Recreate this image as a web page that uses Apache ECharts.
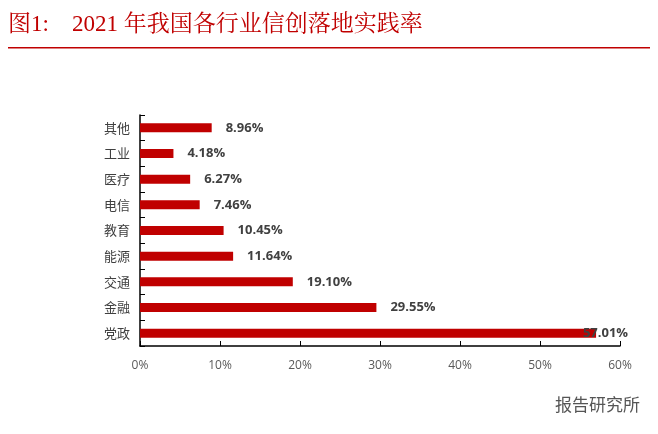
<!DOCTYPE html>
<html><head><meta charset="utf-8">
<script src="https://cdn.jsdelivr.net/npm/echarts@6/dist/echarts.min.js"></script>
<style>html,body{margin:0;padding:0;background:#fff}#c{width:658px;height:434px}</style>
</head><body><div id="c"></div>
<script>
const categories = ['党政','金融','交通','能源','教育','电信','医疗','工业','其他'];
const values = [57.01,29.55,19.10,11.64,10.45,7.46,6.27,4.18,8.96];
const xTicks = [0,10,20,30,40,50,60];
const chart = echarts.init(document.getElementById('c'));
chart.setOption({
  animation:false,
  graphic:[
    {type:'text',left:8,top:13,style:{text:'图1:    2021 年我国各行业信创落地实践率',fill:'#c00000',font:'23px "Liberation Serif","Noto Serif CJK SC","Noto Sans CJK SC",serif'}},
    {type:'rect',shape:{x:8,y:47,width:642,height:1.5},style:{fill:'#c00000'}},
    {type:'text',right:18,top:396,style:{text:'报告研究所',fill:'#555',font:'17px "Noto Sans CJK SC",sans-serif'}}
  ],
  grid:{left:140,right:38,top:115,bottom:88},
  xAxis:{type:'value',min:xTicks[0],max:xTicks[xTicks.length-1],interval:10,
    axisLine:{show:true,lineStyle:{color:'#000',width:1.5}},
    axisTick:{show:true,inside:true,length:5,lineStyle:{color:'#000'}},
    splitLine:{show:false},
    axisLabel:{formatter:v=>v+'%',color:'#595959',fontSize:12,margin:14,fontFamily:'"Open Sans",sans-serif'}},
  yAxis:{type:'category',data:categories,
    axisLine:{lineStyle:{color:'#000',width:1.5}},
    axisTick:{show:true,inside:true,length:5,lineStyle:{color:'#000'}},
    axisLabel:{color:'#404040',fontSize:13,margin:10,fontFamily:'"Noto Sans CJK SC",sans-serif'}},
  series:[{type:'bar',data:values.map((v,i)=>i===0?{value:v,label:{position:'insideRight',offset:[32,0],distance:0}}:v),barWidth:9,itemStyle:{color:'#c00000'},
    label:{show:true,position:'right',distance:14,formatter:p=>p.value.toFixed(2)+'%',
      color:'#404040',fontWeight:'bold',fontSize:13,fontFamily:'"Open Sans",sans-serif'}}]
});
</script></body></html>
